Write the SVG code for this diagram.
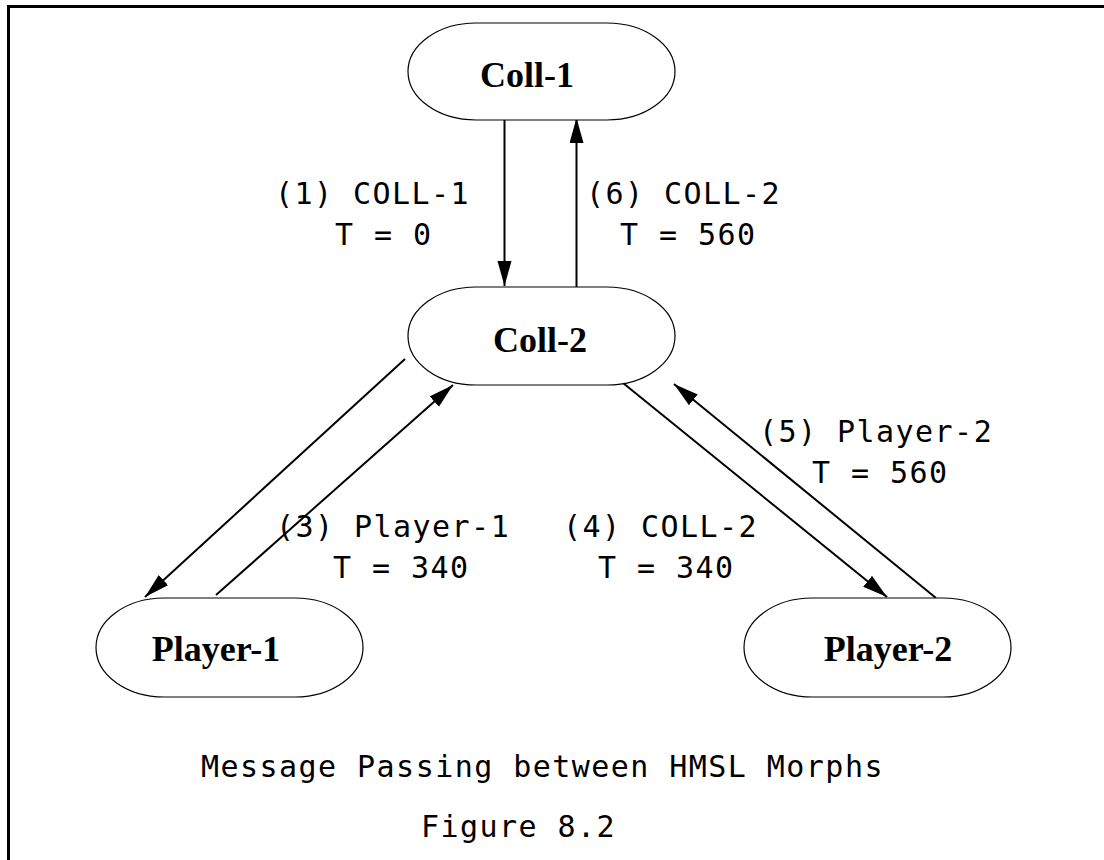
<svg xmlns="http://www.w3.org/2000/svg" width="1104" height="860" viewBox="0 0 1104 860">
<style>
.node rect{fill:#fff;stroke:#000;stroke-width:1.2}
.nl{font-family:"Liberation Serif","Times New Roman",serif;font-weight:bold;font-size:36px;text-anchor:middle;fill:#000}
.lbl{font-family:"DejaVu Sans Mono",monospace;font-size:30px;letter-spacing:1.45px;fill:#000}
.edge{stroke:#000;stroke-width:2;fill:none;marker-end:url(#ah)}
</style>
<defs>
<marker id="ah" markerUnits="userSpaceOnUse" markerWidth="26" markerHeight="16" refX="25" refY="7" orient="auto">
<path d="M0,0 L25,7 L0,14 z" fill="#000"/>
</marker>
</defs>
<rect width="1104" height="860" fill="#fff"/>
<g id="frame" stroke="#000" stroke-width="3">
<line x1="7" y1="6.5" x2="1104" y2="6.5"/>
<line x1="8.5" y1="5" x2="8.5" y2="860"/>
</g>
<g id="connectors">
<line class="edge" x1="504.5" y1="117" x2="504.5" y2="286"/>
<line class="edge" x1="576.5" y1="287" x2="576.5" y2="118"/>
<line class="edge" x1="405" y1="359" x2="145" y2="597"/>
<line class="edge" x1="216" y1="595" x2="453" y2="385"/>
<line class="edge" x1="623" y1="383" x2="887" y2="597"/>
<line class="edge" x1="936" y1="598" x2="674" y2="384"/>
</g>
<g id="coll1" class="node"><rect x="408" y="23" width="267" height="97" rx="68" ry="48.5"/><text class="nl" x="527" y="87">Coll-1</text></g>
<g id="coll2" class="node"><rect x="408" y="287" width="267" height="98" rx="68" ry="49"/><text class="nl" x="540" y="352">Coll-2</text></g>
<g id="player1" class="node"><rect x="96" y="598" width="267" height="99" rx="68" ry="49.5"/><text class="nl" x="216" y="661">Player-1</text></g>
<g id="player2" class="node"><rect x="744" y="598" width="267" height="99" rx="68" ry="49.5"/><text class="nl" x="888" y="661">Player-2</text></g>
<g id="labels">
<text class="lbl" x="275" y="204">(1) COLL-1</text>
<text class="lbl" x="335" y="245">T = 0</text>
<text class="lbl" x="586" y="204">(6) COLL-2</text>
<text class="lbl" x="620" y="245">T = 560</text>
<text class="lbl" x="276" y="537">(3) Player-1</text>
<text class="lbl" x="333" y="578">T = 340</text>
<text class="lbl" x="563" y="537">(4) COLL-2</text>
<text class="lbl" x="598" y="578">T = 340</text>
<text class="lbl" x="759" y="442">(5) Player-2</text>
<text class="lbl" x="812" y="483">T = 560</text>
<text class="lbl" x="201" y="777">Message Passing between HMSL Morphs</text>
<text class="lbl" x="421" y="837">Figure 8.2</text>
</g>
</svg>
